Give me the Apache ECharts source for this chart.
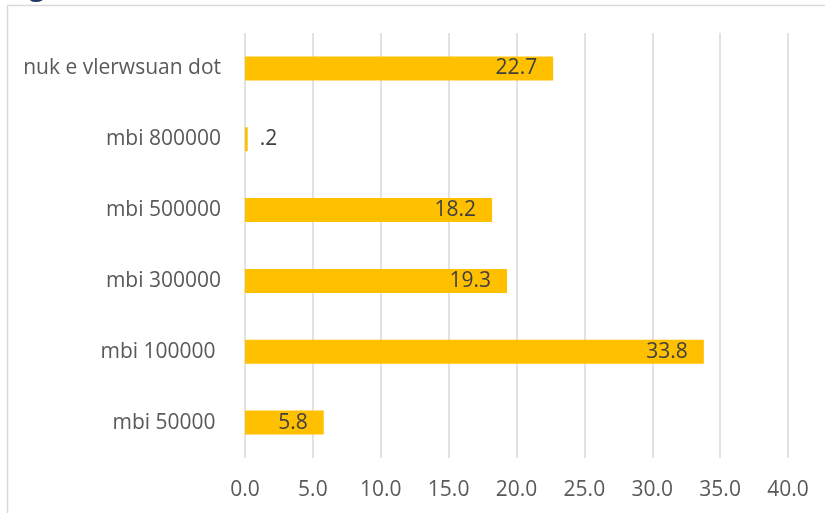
<!DOCTYPE html>
<html><head><meta charset="utf-8">
<script src="https://cdn.jsdelivr.net/npm/echarts@6/dist/echarts.min.js"></script>
<style>html,body{margin:0;padding:0;background:#fff}#c{width:825px;height:513px}</style>
</head><body><div id="c"></div>
<script>
const categories = ["mbi 50000 ", "mbi 100000 ", "mbi 300000", "mbi 500000", "mbi 800000", "nuk e vlerwsuan dot"];
const values = [5.8, 33.8, 19.3, 18.2, 0.2, 22.7];
const xTicks = { min: 0, max: 40, interval: 5 };

const fmt = v => { let s = v.toFixed(1); return v < 1 ? s.replace(/^0/, '') : s; };
const chart = echarts.init(document.getElementById('c'));
chart.setOption({
  animation: false,
  graphic: [
    { type: 'rect', shape: { x: 7.5, y: 5.5, width: 900, height: 600 }, style: { fill: 'none', stroke: '#d9d9d9', lineWidth: 1.5 } },
    { type: 'text', x: 29, y: 1, style: { text: 'g', fill: '#1F3864', font: 'bold 28px "Open Sans"', verticalAlign: 'bottom', lineHeight: 28 } }
  ],
  grid: { left: 245, right: 37, top: 33, bottom: 55 },
  xAxis: {
    type: 'value', min: xTicks.min, max: xTicks.max, interval: xTicks.interval,
    axisLine: { show: false }, axisTick: { show: false },
    splitLine: { show: true, lineStyle: { color: '#d9d9d9', width: 1.5 } },
    axisLabel: { formatter: v => v.toFixed(1), color: '#595959', fontSize: 21, fontFamily: 'Open Sans', margin: 22 }
  },
  yAxis: {
    type: 'category', data: categories,
    axisLine: { show: false }, axisTick: { show: false },
    axisLabel: { color: '#595959', fontSize: 21, fontFamily: 'Open Sans', margin: 24, padding: [3, 0, 0, 0] }
  },
  series: [{
    type: 'bar', barWidth: 24,
    itemStyle: { color: '#FFC000' },
    data: values.map(v => v < 1
      ? { value: v, label: { position: 'right', distance: 12 } }
      : v),
    label: { show: true, position: 'insideRight', distance: 16, color: '#404040', fontSize: 21, fontFamily: 'Open Sans', padding: [3, 0, 0, 0], formatter: p => fmt(p.value) }
  }]
});
</script></body></html>
